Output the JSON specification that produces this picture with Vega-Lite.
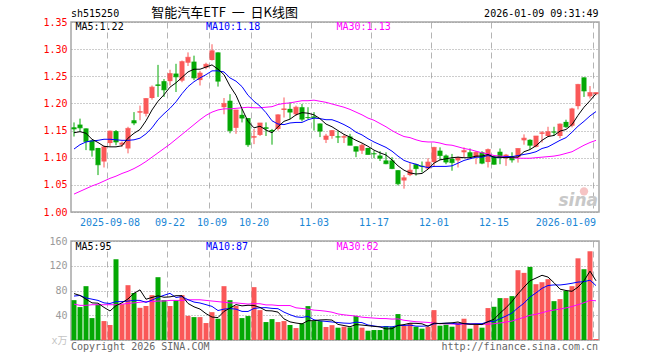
{
"$schema": "https://vega.github.io/schema/vega-lite/v6.json",
"background": "white",
"padding": {"left": 30, "top": 6, "right": 5, "bottom": 2},
"bounds": "flush",
"spacing": 29,
"data": {"values": [
{"d":"2025-08-29","o":1.156,"h":1.165,"l":1.139,"c":1.153,"v":64.4,"m5":1.146,"m10":1.116,"m30":1.033,"vm5":75,"vm10":71,"vm30":58},
{"d":"2025-09-01","o":1.161,"h":1.172,"l":1.148,"c":1.155,"v":53.2,"m5":1.148,"m10":1.124,"m30":1.038,"vm5":72,"vm10":72,"vm30":56},
{"d":"2025-09-02","o":1.154,"h":1.154,"l":1.114,"c":1.130,"v":87.0,"m5":1.145,"m10":1.129,"m30":1.043,"vm5":66,"vm10":68,"vm30":56},
{"d":"2025-09-03","o":1.132,"h":1.132,"l":1.102,"c":1.114,"v":35.4,"m5":1.134,"m10":1.131,"m30":1.048,"vm5":60,"vm10":66,"vm30":57},
{"d":"2025-09-04","o":1.118,"h":1.118,"l":1.068,"c":1.087,"v":57.5,"m5":1.128,"m10":1.132,"m30":1.052,"vm5":59.5,"vm10":64,"vm30":57},
{"d":"2025-09-05","o":1.093,"h":1.122,"l":1.082,"c":1.120,"v":30.6,"m5":1.121,"m10":1.134,"m30":1.057,"vm5":52.7,"vm10":60,"vm30":57},
{"d":"2025-09-08","o":1.127,"h":1.150,"l":1.121,"c":1.149,"v":24.2,"m5":1.120,"m10":1.134,"m30":1.062,"vm5":46.9,"vm10":59,"vm30":57},
{"d":"2025-09-09","o":1.149,"h":1.151,"l":1.123,"c":1.129,"v":130.5,"m5":1.120,"m10":1.133,"m30":1.066,"vm5":55.6,"vm10":62,"vm30":57},
{"d":"2025-09-10","o":1.124,"h":1.130,"l":1.120,"c":1.127,"v":58,"m5":1.122,"m10":1.132,"m30":1.071,"vm5":60.2,"vm10":62,"vm30":58},
{"d":"2025-09-11","o":1.117,"h":1.157,"l":1.108,"c":1.154,"v":88.6,"m5":1.136,"m10":1.132,"m30":1.075,"vm5":66.4,"vm10":62.9,"vm30":59},
{"d":"2025-09-12","o":1.169,"h":1.184,"l":1.160,"c":1.164,"v":76,"m5":1.145,"m10":1.133,"m30":1.080,"vm5":75.5,"vm10":64.1,"vm30":60},
{"d":"2025-09-15","o":1.183,"h":1.196,"l":1.169,"c":1.185,"v":52,"m5":1.152,"m10":1.136,"m30":1.086,"vm5":81.0,"vm10":64.0,"vm30":61},
{"d":"2025-09-16","o":1.181,"h":1.210,"l":1.176,"c":1.209,"v":55,"m5":1.168,"m10":1.144,"m30":1.093,"vm5":65.9,"vm10":60.8,"vm30":62},
{"d":"2025-09-17","o":1.210,"h":1.233,"l":1.207,"c":1.230,"v":72.5,"m5":1.188,"m10":1.155,"m30":1.101,"vm5":68.8,"vm10":64.5,"vm30":62},
{"d":"2025-09-18","o":1.235,"h":1.271,"l":1.212,"c":1.233,"v":101.5,"m5":1.204,"m10":1.170,"m30":1.109,"vm5":71.4,"vm10":68.9,"vm30":63},
{"d":"2025-09-19","o":1.241,"h":1.245,"l":1.212,"c":1.225,"v":64.4,"m5":1.216,"m10":1.181,"m30":1.117,"vm5":69.1,"vm10":72.3,"vm30":63},
{"d":"2025-09-22","o":1.241,"h":1.262,"l":1.233,"c":1.255,"v":55,"m5":1.230,"m10":1.191,"m30":1.125,"vm5":69.7,"vm10":75.4,"vm30":64},
{"d":"2025-09-23","o":1.255,"h":1.273,"l":1.221,"c":1.249,"v":64.4,"m5":1.238,"m10":1.203,"m30":1.134,"vm5":71.6,"vm10":68.7,"vm30":64},
{"d":"2025-09-24","o":1.242,"h":1.279,"l":1.239,"c":1.277,"v":72.5,"m5":1.248,"m10":1.218,"m30":1.143,"vm5":71.6,"vm10":70.2,"vm30":64},
{"d":"2025-09-25","o":1.275,"h":1.294,"l":1.269,"c":1.285,"v":39,"m5":1.258,"m10":1.231,"m30":1.152,"vm5":59.1,"vm10":65.2,"vm30":65},
{"d":"2025-09-26","o":1.277,"h":1.288,"l":1.243,"c":1.247,"v":37,"m5":1.263,"m10":1.240,"m30":1.161,"vm5":53.6,"vm10":61.3,"vm30":65},
{"d":"2025-09-29","o":1.243,"h":1.260,"l":1.233,"c":1.256,"v":37,"m5":1.263,"m10":1.247,"m30":1.170,"vm5":50.0,"vm10":59.8,"vm30":65},
{"d":"2025-09-30","o":1.266,"h":1.275,"l":1.263,"c":1.272,"v":27.4,"m5":1.267,"m10":1.253,"m30":1.178,"vm5":42.6,"vm10":57.1,"vm30":64},
{"d":"2025-10-09","o":1.280,"h":1.309,"l":1.279,"c":1.297,"v":45,"m5":1.271,"m10":1.260,"m30":1.184,"vm5":37.1,"vm10":54.3,"vm30":63},
{"d":"2025-10-10","o":1.294,"h":1.294,"l":1.231,"c":1.241,"v":34.4,"m5":1.263,"m10":1.260,"m30":1.188,"vm5":36.2,"vm10":47.6,"vm30":62},
{"d":"2025-10-13","o":1.193,"h":1.210,"l":1.180,"c":1.200,"v":87,"m5":1.253,"m10":1.258,"m30":1.190,"vm5":46.2,"vm10":49.9,"vm30":61},
{"d":"2025-10-14","o":1.205,"h":1.217,"l":1.145,"c":1.150,"v":64.4,"m5":1.232,"m10":1.247,"m30":1.190,"vm5":51.6,"vm10":50.8,"vm30":60},
{"d":"2025-10-15","o":1.155,"h":1.188,"l":1.144,"c":1.188,"v":55,"m5":1.215,"m10":1.241,"m30":1.191,"vm5":57.2,"vm10":49.9,"vm30":60},
{"d":"2025-10-16","o":1.179,"h":1.190,"l":1.165,"c":1.173,"v":35.4,"m5":1.190,"m10":1.231,"m30":1.192,"vm5":55.2,"vm10":46.2,"vm30":59},
{"d":"2025-10-17","o":1.173,"h":1.173,"l":1.120,"c":1.124,"v":38.7,"m5":1.167,"m10":1.215,"m30":1.193,"vm5":56.1,"vm10":46.1,"vm30":58.1},
{"d":"2025-10-20","o":1.137,"h":1.153,"l":1.125,"c":1.139,"v":85.4,"m5":1.155,"m10":1.204,"m30":1.192,"vm5":55.8,"vm10":51.0,"vm30":58.8},
{"d":"2025-10-21","o":1.142,"h":1.164,"l":1.140,"c":1.164,"v":48.3,"m5":1.158,"m10":1.195,"m30":1.192,"vm5":52.6,"vm10":52.1,"vm30":58.6},
{"d":"2025-10-22","o":1.156,"h":1.165,"l":1.140,"c":1.154,"v":29,"m5":1.151,"m10":1.183,"m30":1.193,"vm5":47.4,"vm10":52.3,"vm30":56.7},
{"d":"2025-10-23","o":1.151,"h":1.153,"l":1.124,"c":1.149,"v":33.8,"m5":1.146,"m10":1.168,"m30":1.194,"vm5":47.0,"vm10":51.1,"vm30":56.7},
{"d":"2025-10-24","o":1.153,"h":1.180,"l":1.150,"c":1.179,"v":29,"m5":1.157,"m10":1.162,"m30":1.198,"vm5":45.1,"vm10":50.6,"vm30":55.7},
{"d":"2025-10-27","o":1.188,"h":1.211,"l":1.174,"c":1.190,"v":30.6,"m5":1.167,"m10":1.161,"m30":1.200,"vm5":34.1,"vm10":45.0,"vm30":55.7},
{"d":"2025-10-28","o":1.190,"h":1.202,"l":1.171,"c":1.184,"v":24.2,"m5":1.171,"m10":1.164,"m30":1.201,"vm5":29.3,"vm10":40.9,"vm30":55.7},
{"d":"2025-10-29","o":1.180,"h":1.196,"l":1.177,"c":1.193,"v":19.3,"m5":1.179,"m10":1.165,"m30":1.203,"vm5":27.4,"vm10":37.4,"vm30":52.0},
{"d":"2025-10-30","o":1.193,"h":1.199,"l":1.167,"c":1.171,"v":26.9,"m5":1.183,"m10":1.165,"m30":1.205,"vm5":26.0,"vm10":36.5,"vm30":51.0},
{"d":"2025-10-31","o":1.175,"h":1.193,"l":1.171,"c":1.174,"v":54.8,"m5":1.182,"m10":1.170,"m30":1.205,"vm5":31.2,"vm10":38.1,"vm30":49.8},
{"d":"2025-11-03","o":1.176,"h":1.184,"l":1.150,"c":1.174,"v":30.6,"m5":1.179,"m10":1.173,"m30":1.206,"vm5":31.2,"vm10":32.7,"vm30":48.3},
{"d":"2025-11-04","o":1.163,"h":1.163,"l":1.138,"c":1.149,"v":30.6,"m5":1.172,"m10":1.172,"m30":1.204,"vm5":32.4,"vm10":30.9,"vm30":47.6},
{"d":"2025-11-05","o":1.133,"h":1.144,"l":1.127,"c":1.140,"v":21,"m5":1.162,"m10":1.170,"m30":1.202,"vm5":32.8,"vm10":30.1,"vm30":46.5},
{"d":"2025-11-06","o":1.140,"h":1.151,"l":1.135,"c":1.150,"v":24,"m5":1.157,"m10":1.170,"m30":1.199,"vm5":32.2,"vm10":29.1,"vm30":44.9},
{"d":"2025-11-07","o":1.139,"h":1.149,"l":1.127,"c":1.138,"v":19.9,"m5":1.150,"m10":1.166,"m30":1.196,"vm5":25.2,"vm10":28.2,"vm30":42.1},
{"d":"2025-11-10","o":1.137,"h":1.143,"l":1.127,"c":1.139,"v":21.5,"m5":1.143,"m10":1.161,"m30":1.193,"vm5":23.4,"vm10":27.3,"vm30":40.7},
{"d":"2025-11-11","o":1.139,"h":1.144,"l":1.123,"c":1.123,"v":20.4,"m5":1.138,"m10":1.155,"m30":1.189,"vm5":21.4,"vm10":26.9,"vm30":39.6},
{"d":"2025-11-12","o":1.121,"h":1.121,"l":1.101,"c":1.112,"v":38.7,"m5":1.132,"m10":1.147,"m30":1.184,"vm5":24.9,"vm10":28.8,"vm30":38.7},
{"d":"2025-11-13","o":1.113,"h":1.126,"l":1.107,"c":1.123,"v":19.9,"m5":1.127,"m10":1.142,"m30":1.179,"vm5":24.1,"vm10":28.1,"vm30":36.9},
{"d":"2025-11-14","o":1.118,"h":1.118,"l":1.106,"c":1.106,"v":15,"m5":1.121,"m10":1.135,"m30":1.173,"vm5":23.1,"vm10":24.2,"vm30":36.1},
{"d":"2025-11-17","o":1.108,"h":1.113,"l":1.099,"c":1.107,"v":16.1,"m5":1.114,"m10":1.129,"m30":1.169,"vm5":22.0,"vm10":22.7,"vm30":35.4},
{"d":"2025-11-18","o":1.104,"h":1.112,"l":1.094,"c":1.099,"v":16.1,"m5":1.109,"m10":1.124,"m30":1.163,"vm5":21.2,"vm10":21.3,"vm30":34.7},
{"d":"2025-11-19","o":1.095,"h":1.110,"l":1.088,"c":1.089,"v":22.6,"m5":1.105,"m10":1.119,"m30":1.157,"vm5":17.9,"vm10":21.4,"vm30":34.6},
{"d":"2025-11-20","o":1.095,"h":1.101,"l":1.079,"c":1.080,"v":21.5,"m5":1.096,"m10":1.112,"m30":1.150,"vm5":18.3,"vm10":21.2,"vm30":33.8},
{"d":"2025-11-21","o":1.077,"h":1.077,"l":1.049,"c":1.052,"v":41.9,"m5":1.085,"m10":1.103,"m30":1.144,"vm5":23.6,"vm10":23.4,"vm30":34.1},
{"d":"2025-11-24","o":1.058,"h":1.068,"l":1.043,"c":1.063,"v":22.6,"m5":1.077,"m10":1.095,"m30":1.139,"vm5":24.9,"vm10":23.5,"vm30":31.9},
{"d":"2025-11-25","o":1.068,"h":1.090,"l":1.066,"c":1.077,"v":26.9,"m5":1.072,"m10":1.091,"m30":1.137,"vm5":27.1,"vm10":24.1,"vm30":30.7},
{"d":"2025-11-26","o":1.088,"h":1.089,"l":1.067,"c":1.080,"v":21.5,"m5":1.070,"m10":1.088,"m30":1.133,"vm5":26.9,"vm10":22.4,"vm30":29.5},
{"d":"2025-11-27","o":1.085,"h":1.093,"l":1.073,"c":1.084,"v":18.3,"m5":1.071,"m10":1.084,"m30":1.130,"vm5":26.2,"vm10":22.3,"vm30":29.0},
{"d":"2025-11-28","o":1.080,"h":1.099,"l":1.079,"c":1.092,"v":21.5,"m5":1.079,"m10":1.082,"m30":1.129,"vm5":22.2,"vm10":22.9,"vm30":28.4},
{"d":"2025-12-01","o":1.092,"h":1.120,"l":1.083,"c":1.119,"v":48.3,"m5":1.090,"m10":1.084,"m30":1.129,"vm5":27.3,"vm10":26.1,"vm30":27.2},
{"d":"2025-12-02","o":1.113,"h":1.119,"l":1.096,"c":1.104,"v":23.1,"m5":1.096,"m10":1.084,"m30":1.127,"vm5":26.5,"vm10":26.8,"vm30":26.3},
{"d":"2025-12-03","o":1.104,"h":1.106,"l":1.088,"c":1.092,"v":24.7,"m5":1.098,"m10":1.084,"m30":1.124,"vm5":27.2,"vm10":27.0,"vm30":26.2},
{"d":"2025-12-04","o":1.098,"h":1.107,"l":1.076,"c":1.091,"v":21.5,"m5":1.100,"m10":1.085,"m30":1.123,"vm5":27.8,"vm10":27.0,"vm30":25.8},
{"d":"2025-12-05","o":1.095,"h":1.102,"l":1.082,"c":1.100,"v":27.9,"m5":1.101,"m10":1.090,"m30":1.120,"vm5":29.1,"vm10":25.6,"vm30":25.7},
{"d":"2025-12-08","o":1.110,"h":1.119,"l":1.101,"c":1.113,"v":34.4,"m5":1.100,"m10":1.095,"m30":1.117,"vm5":26.3,"vm10":26.8,"vm30":25.9},
{"d":"2025-12-09","o":1.110,"h":1.117,"l":1.099,"c":1.102,"v":18.3,"m5":1.100,"m10":1.098,"m30":1.115,"vm5":25.4,"vm10":26.0,"vm30":25.7},
{"d":"2025-12-10","o":1.101,"h":1.112,"l":1.088,"c":1.110,"v":24.2,"m5":1.103,"m10":1.101,"m30":1.112,"vm5":25.3,"vm10":26.2,"vm30":25.8},
{"d":"2025-12-11","o":1.110,"h":1.112,"l":1.088,"c":1.090,"v":19.9,"m5":1.103,"m10":1.101,"m30":1.109,"vm5":24.9,"vm10":26.4,"vm30":25.6},
{"d":"2025-12-12","o":1.092,"h":1.117,"l":1.082,"c":1.115,"v":51.6,"m5":1.106,"m10":1.104,"m30":1.107,"vm5":29.7,"vm10":29.4,"vm30":25.5},
{"d":"2025-12-15","o":1.102,"h":1.104,"l":1.087,"c":1.088,"v":53.7,"m5":1.101,"m10":1.101,"m30":1.104,"vm5":33.5,"vm10":29.9,"vm30":26.3},
{"d":"2025-12-16","o":1.111,"h":1.117,"l":1.088,"c":1.101,"v":67.7,"m5":1.101,"m10":1.100,"m30":1.103,"vm5":43.4,"vm10":34.4,"vm30":27.5},
{"d":"2025-12-17","o":1.099,"h":1.107,"l":1.085,"c":1.105,"v":67.7,"m5":1.100,"m10":1.102,"m30":1.102,"vm5":52.1,"vm10":38.7,"vm30":29.0},
{"d":"2025-12-18","o":1.102,"h":1.110,"l":1.091,"c":1.096,"v":70.9,"m5":1.101,"m10":1.102,"m30":1.100,"vm5":62.3,"vm10":43.6,"vm30":30.6},
{"d":"2025-12-19","o":1.101,"h":1.117,"l":1.091,"c":1.117,"v":112.8,"m5":1.101,"m10":1.104,"m30":1.099,"vm5":74.6,"vm10":52.1,"vm30":33.7},
{"d":"2025-12-22","o":1.132,"h":1.143,"l":1.124,"c":1.136,"v":108.5,"m5":1.111,"m10":1.106,"m30":1.099,"vm5":85.5,"vm10":59.5,"vm30":36.6},
{"d":"2025-12-23","o":1.133,"h":1.134,"l":1.116,"c":1.123,"v":118.1,"m5":1.115,"m10":1.108,"m30":1.099,"vm5":95.6,"vm10":69.5,"vm30":39.9},
{"d":"2025-12-24","o":1.120,"h":1.140,"l":1.119,"c":1.140,"v":90.2,"m5":1.122,"m10":1.111,"m30":1.100,"vm5":100.1,"vm10":76.1,"vm30":41.6},
{"d":"2025-12-25","o":1.144,"h":1.149,"l":1.128,"c":1.146,"v":93.4,"m5":1.132,"m10":1.117,"m30":1.101,"vm5":104.6,"vm10":83.5,"vm30":44.0},
{"d":"2025-12-26","o":1.140,"h":1.157,"l":1.138,"c":1.148,"v":98.3,"m5":1.139,"m10":1.120,"m30":1.102,"vm5":101.7,"vm10":88.1,"vm30":46.8},
{"d":"2025-12-29","o":1.148,"h":1.157,"l":1.140,"c":1.147,"v":62.8,"m5":1.141,"m10":1.126,"m30":1.103,"vm5":92.6,"vm10":89.0,"vm30":48.4},
{"d":"2025-12-30","o":1.140,"h":1.163,"l":1.136,"c":1.162,"v":66.1,"m5":1.149,"m10":1.132,"m30":1.105,"vm5":82.2,"vm10":88.9,"vm30":50.0},
{"d":"2025-12-31","o":1.166,"h":1.170,"l":1.155,"c":1.157,"v":79.5,"m5":1.152,"m10":1.137,"m30":1.108,"vm5":80.0,"vm10":90.1,"vm30":51.9},
{"d":"2026-01-05","o":1.159,"h":1.192,"l":1.156,"c":1.190,"v":87,"m5":1.161,"m10":1.147,"m30":1.111,"vm5":78.7,"vm10":91.7,"vm30":54.1},
{"d":"2026-01-06","o":1.195,"h":1.236,"l":1.189,"c":1.235,"v":132,"m5":1.178,"m10":1.158,"m30":1.117,"vm5":85.5,"vm10":93.6,"vm30":57.1},
{"d":"2026-01-07","o":1.248,"h":1.248,"l":1.212,"c":1.223,"v":114.4,"m5":1.193,"m10":1.167,"m30":1.123,"vm5":95.8,"vm10":94.2,"vm30":60.2},
{"d":"2026-01-08","o":1.213,"h":1.232,"l":1.209,"c":1.220,"v":143.4,"m5":1.205,"m10":1.177,"m30":1.128,"vm5":111.3,"vm10":96.7,"vm30":64.1},
{"d":"2026-01-09","o":1.217,"h":1.220,"l":1.215,"c":1.220,"v":1.6,"m5":1.218,"m10":1.185,"m30":1.132,"vm5":95.7,"vm10":87.9,"vm30":63.4}
]},
"vconcat": [
{
"width": 528, "height": 190,
"layer": [
{"mark": {"type": "rule", "strokeWidth": 1},
 "encoding": {
  "x": {"field": "d", "type": "ordinal", "scale": {"paddingInner": 0, "paddingOuter": 0},
    "axis": {"title": null, "values": ["2025-09-08","2025-09-22","2025-10-09","2025-10-20","2025-11-03","2025-11-17","2025-12-01","2025-12-15","2026-01-09"],
      "labelExpr": "datum.value == '2025-09-08' || datum.value == '2026-01-09' ? datum.value : substring(datum.value, 5)",
      "labelAngle": 0, "labelColor": "#1a86d5", "labelFont": "DejaVu Sans Mono", "labelFontSize": 10, "labelPadding": 5,
      "labelAlign": {"condition": {"test": "datum.value == '2026-01-09'", "value": "right"}, "value": "center"},
      "labelOverlap": false, "labelBound": false, "ticks": false, "domain": false,
      "grid": true, "gridDash": [6, 4], "gridColor": "#b4b4b4", "bandPosition": 0.1}},
  "y": {"field": "l", "type": "quantitative", "scale": {"domain": [1.0, 1.35], "zero": false, "nice": false},
    "axis": {"title": null, "values": [1.0,1.05,1.1,1.15,1.2,1.25,1.3,1.35], "tickCount": 50, "format": ".2f", "labelColor": "#ff0000",
      "labelFont": "DejaVu Sans Mono", "labelFontSize": 10, "labelPadding": 4, "ticks": false, "domain": false,
      "labelOverlap": false, "labelBound": false, "labelFlush": false,
      "grid": true, "gridDash": [1, 2], "gridColor": "#9a9a9a", "minExtent": 40, "maxExtent": 40}},
  "y2": {"field": "h"},
  "color": {"condition": {"test": "datum.c >= datum.o", "value": "#fa5858"}, "value": "#04a804"}
 }},
{"mark": {"type": "bar", "size": 5},
 "encoding": {"x": {"field": "d", "type": "ordinal"}, "y": {"field": "o", "type": "quantitative"}, "y2": {"field": "c"},
  "color": {"condition": {"test": "datum.c >= datum.o", "value": "#fa5858"}, "value": "#04a804"}}},
{"mark": {"type": "tick", "thickness": 1, "size": 5},
 "encoding": {"x": {"field": "d", "type": "ordinal"}, "y": {"field": "c", "type": "quantitative"},
  "color": {"condition": {"test": "datum.c >= datum.o", "value": "#fa5858"}, "value": "#04a804"}}},
{"mark": {"type": "line", "strokeWidth": 1, "color": "#ff00ff"},
 "encoding": {"x": {"field": "d", "type": "ordinal"}, "y": {"field": "m30", "type": "quantitative"}}},
{"mark": {"type": "line", "strokeWidth": 1, "color": "#0000ff"},
 "encoding": {"x": {"field": "d", "type": "ordinal"}, "y": {"field": "m10", "type": "quantitative"}}},
{"mark": {"type": "line", "strokeWidth": 1, "color": "#000000"},
 "encoding": {"x": {"field": "d", "type": "ordinal"}, "y": {"field": "m5", "type": "quantitative"}}},
{"data": {"values": [{}]},
 "mark": {"type": "text", "text": "MA5:1.22", "align": "left", "baseline": "middle", "dx": 1.5, "dy": 5, "font": "DejaVu Sans Mono", "fontSize": 10, "color": "#000000"},
 "encoding": {"x": {"datum": "2025-08-29"}, "y": {"datum": 1.35}}},
{"data": {"values": [{}]},
 "mark": {"type": "text", "text": "MA10:1.18", "align": "left", "baseline": "middle", "dx": 0, "dy": 5, "font": "DejaVu Sans Mono", "fontSize": 10, "color": "#0000ff"},
 "encoding": {"x": {"datum": "2025-09-30"}, "y": {"datum": 1.35}}},
{"data": {"values": [{}]},
 "mark": {"type": "text", "text": "MA30:1.13", "align": "left", "baseline": "middle", "dx": -1.5, "dy": 5, "font": "DejaVu Sans Mono", "fontSize": 10, "color": "#ff00ff"},
 "encoding": {"x": {"datum": "2025-11-07"}, "y": {"datum": 1.35}}},
{"data": {"values": [{}]},
 "mark": {"type": "text", "text": "sh515250", "align": "left", "baseline": "alphabetic", "dx": -3, "dy": -5, "font": "DejaVu Sans Mono", "fontSize": 10, "color": "#000000"},
 "encoding": {"x": {"datum": "2025-08-29"}, "y": {"datum": 1.35}}},
{"data": {"values": [{}]},
 "mark": {"type": "text", "text": "智能汽车ETF\u00a0\u00a0一\u00a0\u00a0日K线图", "align": "left", "baseline": "alphabetic", "dx": -0.7, "dy": -5, "font": "Noto Sans CJK SC", "fontSize": 13, "color": "#000000"},
 "encoding": {"x": {"datum": "2025-09-17"}, "y": {"datum": 1.35}}},
{"data": {"values": [{}]},
 "mark": {"type": "text", "text": "2026-01-09 09:31:49", "align": "right", "baseline": "alphabetic", "dx": 2.5, "dy": -5, "font": "DejaVu Sans Mono", "fontSize": 10, "color": "#000000"},
 "encoding": {"x": {"datum": "2026-01-09"}, "y": {"datum": 1.35}}},
{"data": {"values": [{}]},
 "mark": {"type": "point", "filled": true, "size": 70, "color": "#f6c4c4", "opacity": 1},
 "encoding": {"x": {"datum": "2026-01-07"}, "y": {"datum": 1.038}}},
{"data": {"values": [{}]},
 "mark": {"type": "text", "text": "sina", "align": "right", "baseline": "alphabetic", "dx": 2, "dy": -6, "font": "DejaVu Sans", "fontSize": 17, "fontStyle": "italic", "fontWeight": "bold", "color": "#c8c8c8"},
 "encoding": {"x": {"datum": "2026-01-09"}, "y": {"datum": 1.0}}}
]
},
{
"width": 528, "height": 99,
"layer": [
{"mark": {"type": "bar", "size": 5},
 "encoding": {
  "x": {"field": "d", "type": "ordinal", "scale": {"paddingInner": 0, "paddingOuter": 0},
    "axis": {"title": null, "values": ["2025-09-08","2025-09-22","2025-10-09","2025-10-20","2025-11-03","2025-11-17","2025-12-01","2025-12-15","2026-01-09"],
      "labels": false, "ticks": false, "domain": false, "grid": true, "gridDash": [6, 4], "gridColor": "#b4b4b4", "bandPosition": 0.1}},
  "y": {"field": "v", "type": "quantitative", "scale": {"domain": [0, 160], "nice": false},
    "axis": {"title": null, "values": [0, 40, 80, 120, 160], "tickCount": 50,
      "labelExpr": "datum.value == 0 ? 'x万' : datum.label",
      "labelColor": {"condition": {"test": "datum.value == 0", "value": "#c4c4c4"}, "value": "#9a9a9a"},
      "labelFont": "DejaVu Sans Mono, Noto Sans CJK SC", "labelFontSize": 10, "labelPadding": 4, "ticks": false, "domain": false,
      "labelOverlap": false, "labelBound": false, "labelFlush": false,
      "grid": true, "gridDash": [1, 2], "gridColor": "#9a9a9a", "minExtent": 40, "maxExtent": 40}},
  "color": {"condition": {"test": "datum.c >= datum.o", "value": "#fa5858"}, "value": "#04a804"}
 }},
{"mark": {"type": "line", "strokeWidth": 1, "color": "#ff00ff"},
 "encoding": {"x": {"field": "d", "type": "ordinal"}, "y": {"field": "vm30", "type": "quantitative"}}},
{"mark": {"type": "line", "strokeWidth": 1, "color": "#0000ff"},
 "encoding": {"x": {"field": "d", "type": "ordinal"}, "y": {"field": "vm10", "type": "quantitative"}}},
{"mark": {"type": "line", "strokeWidth": 1, "color": "#000000"},
 "encoding": {"x": {"field": "d", "type": "ordinal"}, "y": {"field": "vm5", "type": "quantitative"}}},
{"data": {"values": [{}]},
 "mark": {"type": "text", "text": "MA5:95", "align": "left", "baseline": "middle", "dx": 1.5, "dy": 5.5, "font": "DejaVu Sans Mono", "fontSize": 10, "color": "#000000"},
 "encoding": {"x": {"datum": "2025-08-29"}, "y": {"datum": 160}}},
{"data": {"values": [{}]},
 "mark": {"type": "text", "text": "MA10:87", "align": "left", "baseline": "middle", "dx": 0, "dy": 5.5, "font": "DejaVu Sans Mono", "fontSize": 10, "color": "#0000ff"},
 "encoding": {"x": {"datum": "2025-09-30"}, "y": {"datum": 160}}},
{"data": {"values": [{}]},
 "mark": {"type": "text", "text": "MA30:62", "align": "left", "baseline": "middle", "dx": -1.5, "dy": 5.5, "font": "DejaVu Sans Mono", "fontSize": 10, "color": "#ff00ff"},
 "encoding": {"x": {"datum": "2025-11-07"}, "y": {"datum": 160}}},
{"data": {"values": [{}]},
 "mark": {"type": "text", "text": "Copyright 2026 SINA.COM", "align": "left", "baseline": "top", "dx": -3, "dy": 1.5, "font": "DejaVu Sans Mono", "fontSize": 10, "color": "#666666"},
 "encoding": {"x": {"datum": "2025-08-29"}, "y": {"datum": 0}}},
{"data": {"values": [{}]},
 "mark": {"type": "text", "text": "http://finance.sina.com.cn", "align": "right", "baseline": "top", "dx": 2, "dy": 1.5, "font": "DejaVu Sans Mono", "fontSize": 10, "color": "#666666"},
 "encoding": {"x": {"datum": "2026-01-09"}, "y": {"datum": 0}}}
]
}
],
"config": {
 "view": {"stroke": "#a6a6a6", "strokeWidth": 1.5},
 "axis": {"labelFont": "DejaVu Sans Mono", "labelFontSize": 10, "labelOverlap": false}
}
}
